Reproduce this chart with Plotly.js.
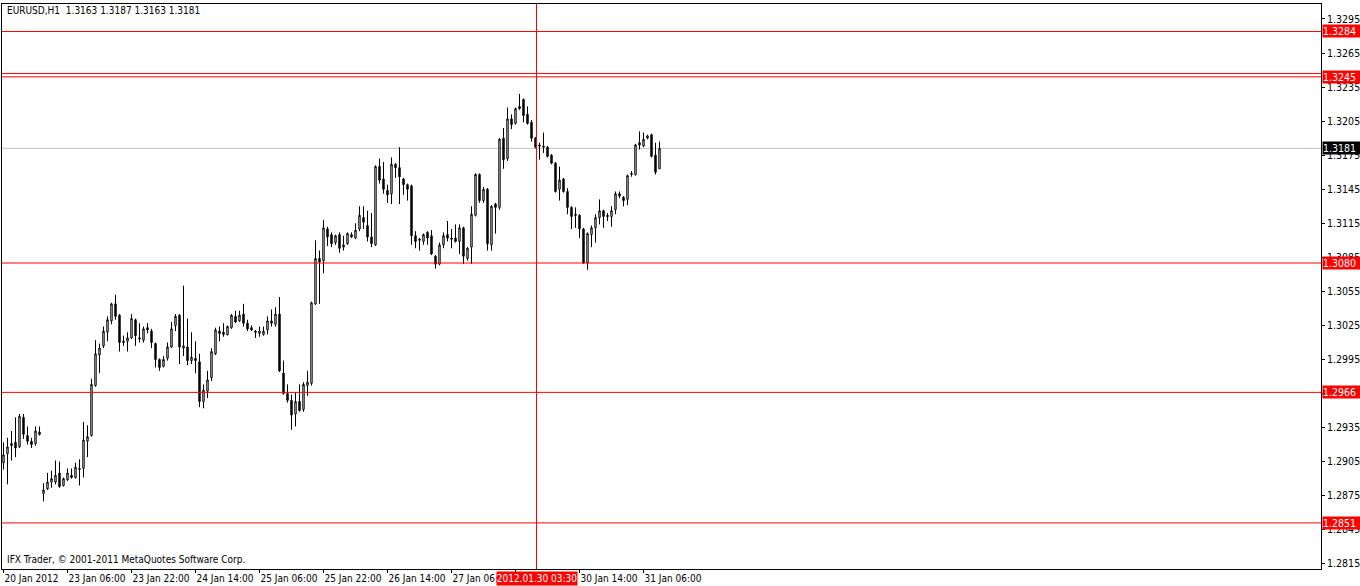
<!DOCTYPE html>
<html>
<head>
<meta charset="utf-8">
<script src="https://cdn.plot.ly/plotly-3.0.1.min.js"></script>
<style>html,body{margin:0;padding:0;background:#fff;}#chart{width:1360px;height:586px;}</style>
</head>
<body>
<div id="chart"></div>
<script>
// EURUSD H1, 20 Jan 2012 14:00 .. 31 Jan 2012 10:00
const openP = [1.2904,1.2912,1.2919,1.2922,1.2918,1.2944,1.2928,1.2923,1.2921,1.2931,
1.2877,1.2881,1.2887,1.2887,1.2895,1.2884,1.2889,1.2893,1.2891,1.2898,
1.2899,1.2923,1.2928,1.2972,1.2999,1.3007,1.3019,1.3029,1.3044,1.3034,
1.3011,1.3011,1.3014,1.3030,1.3013,1.3012,1.3023,1.3020,1.3009,1.2995,
1.2989,1.2996,1.3006,1.3025,1.3034,1.3005,1.3006,1.2994,1.2996,1.2993,
1.2958,1.2967,1.2979,1.3000,1.3020,1.3019,1.3017,1.3023,1.3033,1.3029,
1.3035,1.3027,1.3023,1.3020,1.3018,1.3017,1.3021,1.3029,1.3026,1.3035,
1.2983,1.2965,1.2959,1.2947,1.2958,1.2951,1.2972,1.2974,1.3044,1.3084,
1.3082,1.3110,1.3105,1.3098,1.3105,1.3094,1.3097,1.3105,1.3102,1.3110,
1.3120,1.3113,1.3103,1.3096,1.3165,1.3154,1.3144,1.3141,1.3167,1.3164,
1.3154,1.3149,1.3148,1.3104,1.3100,1.3099,1.3107,1.3104,1.3086,1.3079,
1.3096,1.3105,1.3102,1.3102,1.3099,1.3111,1.3084,1.3094,1.3122,1.3158,
1.3135,1.3145,1.3096,1.3132,1.3129,1.3190,1.3172,1.3207,1.3203,1.3218,
1.3224,1.3211,1.3204,1.3190,1.3184,1.3182,1.3182,1.3175,1.3168,1.3145,
1.3154,1.3143,1.3129,1.3123,1.3122,1.3110,1.3080,1.3105,1.3111,1.3120,
1.3126,1.3122,1.3121,1.3127,1.3141,1.3138,1.3136,1.3158,1.3158,1.3186,
1.3183,1.3190,1.3193,1.3175,1.3163];
const highP = [1.2922,1.2926,1.2932,1.2944,1.2947,1.2947,1.2936,1.2926,1.2936,1.2936,
1.2886,1.2895,1.2897,1.2906,1.2905,1.2891,1.2899,1.2899,1.2904,1.2907,
1.2940,1.2937,1.2978,1.3012,1.3009,1.3024,1.3033,1.3045,1.3052,1.3035,
1.3016,1.3019,1.3035,1.3031,1.3027,1.3024,1.3027,1.3022,1.3010,1.2996,
1.2998,1.3010,1.3028,1.3035,1.3035,1.3060,1.3031,1.3019,1.3011,1.3000,
1.2973,1.2985,1.3005,1.3023,1.3024,1.3027,1.3025,1.3035,1.3038,1.3038,
1.3044,1.3030,1.3025,1.3021,1.3024,1.3024,1.3033,1.3039,1.3041,1.3050,
1.2994,1.2973,1.2964,1.2966,1.2973,1.2975,1.2985,1.3046,1.3100,1.3091,
1.3118,1.3112,1.3107,1.3105,1.3107,1.3104,1.3107,1.3107,1.3115,1.3130,
1.3130,1.3126,1.3124,1.3166,1.3172,1.3169,1.3149,1.3173,1.3168,1.3182,
1.3155,1.3150,1.3149,1.3108,1.3102,1.3106,1.3108,1.3109,1.3087,1.3098,
1.3107,1.3117,1.3110,1.3114,1.3114,1.3112,1.3094,1.3130,1.3159,1.3159,
1.3147,1.3146,1.3131,1.3133,1.3190,1.3199,1.3217,1.3211,1.3217,1.3229,
1.3225,1.3218,1.3206,1.3191,1.3186,1.3195,1.3183,1.3176,1.3169,1.3165,
1.3155,1.3146,1.3130,1.3129,1.3123,1.3111,1.3107,1.3113,1.3123,1.3136,
1.3127,1.3124,1.3130,1.3143,1.3143,1.3139,1.3158,1.3161,1.3185,1.3196,
1.3195,1.3193,1.3194,1.3186,1.3187];
const lowP = [1.2898,1.2885,1.2906,1.2909,1.2917,1.2925,1.2920,1.2917,1.2919,1.2928,
1.2870,1.2880,1.2882,1.2885,1.2882,1.2883,1.2888,1.2890,1.2890,1.2884,
1.2891,1.2909,1.2927,1.2971,1.2983,1.3005,1.3011,1.3026,1.3030,1.3002,
1.3007,1.3002,1.3013,1.3007,1.3010,1.3010,1.3018,1.3005,1.2988,1.2985,
1.2988,1.2994,1.3005,1.3020,1.2991,1.2998,1.2990,1.2991,1.2983,1.2953,
1.2952,1.2961,1.2976,1.2999,1.3011,1.3015,1.3016,1.3022,1.3027,1.3028,
1.3024,1.3020,1.3020,1.3014,1.3015,1.3016,1.3017,1.3024,1.3024,1.2984,
1.2964,1.2957,1.2933,1.2936,1.2949,1.2949,1.2963,1.2972,1.3043,1.3044,
1.3071,1.3095,1.3094,1.3096,1.3089,1.3091,1.3096,1.3102,1.3101,1.3108,
1.3110,1.3099,1.3094,1.3095,1.3150,1.3141,1.3133,1.3132,1.3155,1.3132,
1.3140,1.3135,1.3096,1.3093,1.3091,1.3096,1.3096,1.3087,1.3075,1.3078,
1.3093,1.3099,1.3093,1.3098,1.3088,1.3079,1.3082,1.3079,1.3121,1.3133,
1.3133,1.3091,1.3091,1.3106,1.3127,1.3163,1.3170,1.3198,1.3202,1.3215,
1.3204,1.3202,1.3187,1.3181,1.3171,1.3177,1.3173,1.3167,1.3142,1.3135,
1.3142,1.3123,1.3110,1.3111,1.3102,1.3079,1.3074,1.3094,1.3098,1.3114,
1.3111,1.3117,1.3112,1.3123,1.3137,1.3130,1.3131,1.3156,1.3157,1.3180,
1.3182,1.3189,1.3173,1.3158,1.3163];
const closeP = [1.2911,1.2918,1.2921,1.2917,1.2945,1.2929,1.2923,1.2920,1.2932,1.2929,
1.2880,1.2887,1.2890,1.2893,1.2883,1.2890,1.2895,1.2891,1.2900,1.2899,
1.2924,1.2927,1.2973,1.3000,1.3005,1.3020,1.3030,1.3044,1.3033,1.3010,
1.3010,1.3014,1.3031,1.3016,1.3014,1.3022,1.3021,1.3010,1.2995,1.2988,
1.2995,1.3006,1.3022,1.3033,1.3006,1.3007,1.2994,1.2997,1.2994,1.2958,
1.2968,1.2977,1.3002,1.3021,1.3018,1.3017,1.3024,1.3034,1.3028,1.3034,
1.3027,1.3022,1.3021,1.3019,1.3020,1.3020,1.3029,1.3027,1.3035,1.2985,
1.2965,1.2959,1.2946,1.2958,1.2950,1.2973,1.2975,1.3045,1.3084,1.3081,
1.3111,1.3103,1.3097,1.3104,1.3093,1.3096,1.3106,1.3103,1.3109,1.3122,
1.3116,1.3103,1.3097,1.3165,1.3153,1.3145,1.3140,1.3167,1.3164,1.3156,
1.3149,1.3145,1.3104,1.3099,1.3101,1.3105,1.3102,1.3088,1.3079,1.3096,
1.3104,1.3102,1.3101,1.3099,1.3111,1.3086,1.3093,1.3123,1.3158,1.3135,
1.3145,1.3097,1.3130,1.3129,1.3189,1.3171,1.3207,1.3202,1.3216,1.3216,
1.3210,1.3203,1.3190,1.3182,1.3183,1.3183,1.3174,1.3168,1.3143,1.3153,
1.3143,1.3129,1.3121,1.3122,1.3110,1.3080,1.3106,1.3111,1.3120,1.3126,
1.3121,1.3121,1.3126,1.3141,1.3139,1.3135,1.3157,1.3159,1.3184,1.3184,
1.3189,1.3192,1.3174,1.3160,1.3181];

// Bar index where each time label sits, and its text
const timeTickIdx = [0,16,32,48,64,80,96,112,128,144,160];
const timeTickText = ["20 Jan 2012","23 Jan 06:00","23 Jan 22:00","24 Jan 14:00","25 Jan 06:00",
  "25 Jan 22:00","26 Jan 14:00","27 Jan 06:00","27 Jan 22:00","30 Jan 14:00","31 Jan 06:00"];

// Price scale labels
const priceTicks = [1.3295,1.3265,1.3235,1.3205,1.3175,1.3145,1.3115,1.3085,1.3055,1.3025,
  1.2995,1.2965,1.2935,1.2905,1.2875,1.2845,1.2815];

// Horizontal red levels and their labels
const levels = [1.3284,1.3247,1.3244,1.3080,1.2966,1.2851];
const levelLabels = ["1.3284",null,"1.3245","1.3080","1.2966","1.2851"];
const bidPrice = 1.3181;
const crossIdx = 133.25;
const crossLabel = "2012.01.30 03:30";
const headerText = "EURUSD,H1  1.3163 1.3187 1.3163 1.3181";
const footerText = "IFX Trader, \u00a9 2001-2011 MetaQuotes Software Corp.";

const FONT = "Tahoma, 'DejaVu Sans Condensed', 'DejaVu Sans', sans-serif";
const xIdx = openP.map((_, i) => i);

const trace = {
  type: 'candlestick',
  x: xIdx, open: openP, high: highP, low: lowP, close: closeP,
  increasing: {line: {color: '#000', width: 1}, fillcolor: '#fff'},
  decreasing: {line: {color: '#000', width: 1}, fillcolor: '#000'},
  whiskerwidth: 0,
  hoverinfo: 'skip',
  showlegend: false
};

const shapes = [];
levels.forEach(v => shapes.push({type:'line', xref:'paper', x0:0, x1:1, yref:'y', y0:v, y1:v,
  line:{color:'#ff0000', width:1}}));
shapes.push({type:'line', xref:'paper', x0:0, x1:1, yref:'y', y0:bidPrice, y1:bidPrice,
  line:{color:'#c0c0c0', width:1}, layer:'below'});
shapes.push({type:'line', xref:'x', x0:crossIdx, x1:crossIdx, yref:'paper', y0:0, y1:1,
  line:{color:'#ff0000', width:1}});

const annotations = [];
levels.forEach((v, k) => {
  if (!levelLabels[k]) return;
  annotations.push({xref:'paper', x:1, xanchor:'left', xshift:1, yref:'y', y:v, yanchor:'middle',
    text: levelLabels[k], showarrow:false, bgcolor:'#ff0000', width:37, height:12, align:'left',
    borderpad:0, font:{family:FONT, size:10.5, color:'#fff'}});
});
annotations.push({xref:'paper', x:1, xanchor:'left', xshift:1, yref:'y', y:bidPrice, yanchor:'middle',
  text:'1.3181', showarrow:false, bgcolor:'#000', width:37, height:12, align:'left', borderpad:0,
  font:{family:FONT, size:10.5, color:'#fff'}});
annotations.push({xref:'x', x:crossIdx, xanchor:'center', yref:'paper', y:0, yanchor:'top', yshift:-2,
  text:crossLabel, showarrow:false, bgcolor:'#ff0000', width:80, height:13, borderpad:0,
  font:{family:FONT, size:10, color:'#fff'}});
annotations.push({xref:'paper', x:0, xanchor:'left', xshift:3, yref:'paper', y:1, yanchor:'top', yshift:1,
  text:headerText, showarrow:false, font:{family:FONT, size:10, color:'#000'}});
annotations.push({xref:'paper', x:0, xanchor:'left', xshift:3, yref:'paper', y:0, yanchor:'bottom', yshift:2,
  text:footerText, showarrow:false, font:{family:FONT, size:10, color:'#000'}});

const layout = {
  width: 1360, height: 586,
  margin: {l: 2, r: 39, t: 4, b: 17, pad: 0},
  paper_bgcolor: '#fff', plot_bgcolor: '#fff',
  boxgap: 0.5,
  xaxis: {
    type: 'linear', range: [-0.375, 329.375], fixedrange: true,
    rangeslider: {visible: false},
    showgrid: false, zeroline: false,
    showline: true, linecolor: '#000', linewidth: 1, mirror: true,
    tickmode: 'array', tickvals: timeTickIdx, ticktext: timeTickText,
    ticks: 'outside', ticklen: 3, tickcolor: '#000', tickangle: 0,
    ticklabelposition: 'outside right',
    tickfont: {family: FONT, size: 10, color: '#000'}
  },
  yaxis: {
    range: [1.28104, 1.33082], fixedrange: true, side: 'right',
    showgrid: false, zeroline: false,
    showline: true, linecolor: '#000', linewidth: 1, mirror: true,
    tickmode: 'array', tickvals: priceTicks, ticktext: priceTicks.map(v => v.toFixed(4)),
    ticks: 'outside', ticklen: 3, tickcolor: '#000',
    tickfont: {family: FONT, size: 10.5, color: '#000'}
  },
  shapes: shapes,
  annotations: annotations,
  showlegend: false
};

Plotly.newPlot('chart', [trace], layout, {staticPlot: true, displayModeBar: false});
</script>
</body>
</html>
